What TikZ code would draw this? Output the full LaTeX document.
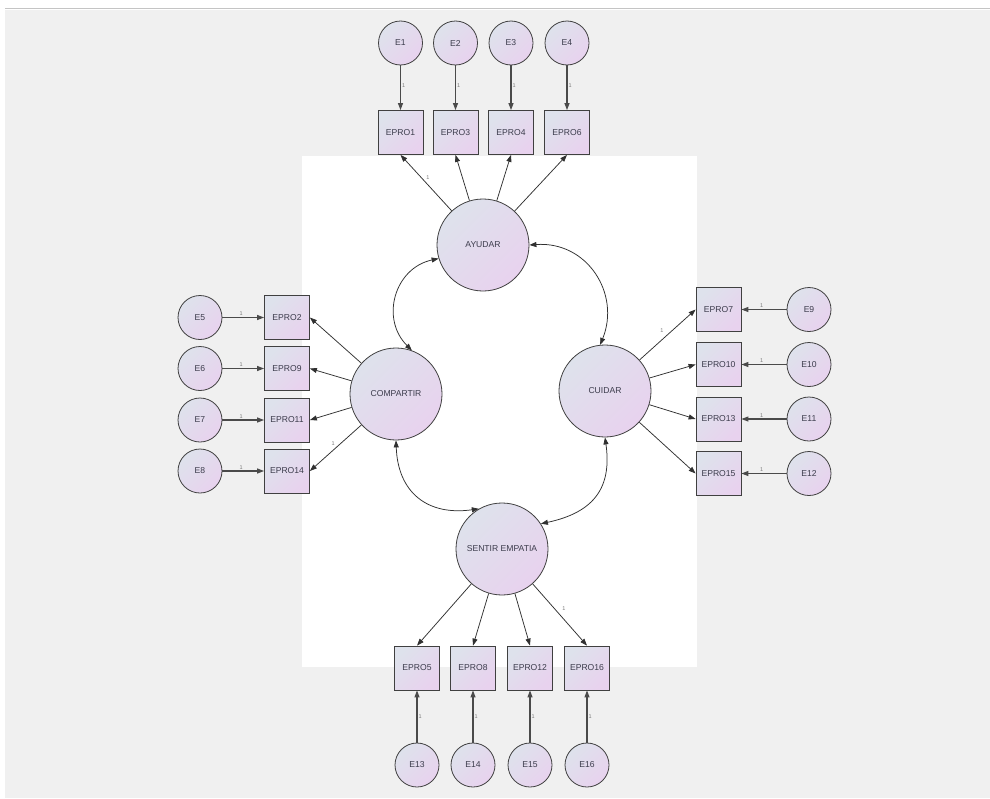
\documentclass[tikz,border=0pt]{standalone}
\usepackage{fontspec}
\setmainfont{Liberation Sans}
\usetikzlibrary{arrows.meta}
\definecolor{bgray}{HTML}{F0F0F0}
\definecolor{topline}{HTML}{C4C4C4}
\definecolor{cA}{HTML}{DEE2EC}
\definecolor{cB}{HTML}{E8D2EE}
\definecolor{bord}{HTML}{404040}
\definecolor{txt}{HTML}{3C3C4C}
\definecolor{lnk}{HTML}{303030}
\definecolor{elnk}{HTML}{4A4A4A}
\definecolor{lblc}{HTML}{7A7A7A}
\begin{document}
\begin{tikzpicture}[x=1pt,y=-1pt,
  shaded/.style={draw=bord, line width=0.8pt, top color=cA, bottom color=cB, shading angle=45,
    inner sep=0pt, text=txt, font=\fontsize{8.6}{10}\selectfont},
  obs/.style={shaded, rectangle, minimum width=45pt, minimum height=44pt},
  err/.style={shaded, circle, minimum size=44pt},
  lat/.style={shaded, circle, minimum size=92pt},
  load/.style={draw=lnk, line width=0.75pt, -{Triangle[length=7pt,width=5pt]}},
  earr/.style={draw=elnk, line width=1.1pt, -{Triangle[length=7pt,width=5pt]}},
  cov/.style={draw=lnk, line width=0.75pt, {Triangle[length=7pt,width=5pt]}-{Triangle[length=7pt,width=5pt]}},
  lbl/.style={font=\fontsize{5.5}{6}\selectfont, text=lblc, inner sep=1pt}]
\useasboundingbox (0,0) rectangle (990,798);
\fill[white] (0,0) rectangle (990,798);
\fill[bgray] (5,9.5) rectangle (990,798);
\draw[topline, line width=1.5pt] (5,8.5) -- (990,8.5);
\fill[white] (302,156) rectangle (697,667);

% latent variables
\node[lat] (ayu) at (483,245) {AYUDAR};
\node[lat] (comp) at (396,394) {COMPARTIR};
\node[lat] (cui) at (605,391) {CUIDAR};
\node[lat] (sent) at (502,549) {SENTIR EMPATIA};

% top
\node[obs] (b1) at (400.5,132.5) {EPRO1};
\node[obs] (b3) at (455.5,132.5) {EPRO3};
\node[obs] (b4) at (511,132.5) {EPRO4};
\node[obs] (b6) at (567,132.5) {EPRO6};
\node[err] (e1) at (400.5,43) {E1};
\node[err] (e2) at (455.5,43) {E2};
\node[err] (e3) at (511,43) {E3};
\node[err] (e4) at (567,43) {E4};

% left
\node[obs] (b2) at (287,317.5) {EPRO2};
\node[obs] (b9) at (287,368.5) {EPRO9};
\node[obs] (b11) at (287,420) {EPRO11};
\node[obs] (b14) at (287,471) {EPRO14};
\node[err] (e5) at (200,317.5) {E5};
\node[err] (e6) at (200,368.5) {E6};
\node[err] (e7) at (200,420) {E7};
\node[err] (e8) at (200,471) {E8};

% right
\node[obs] (b7) at (718.5,309.5) {EPRO7};
\node[obs] (b10) at (718.5,364.5) {EPRO10};
\node[obs] (b13) at (718.5,419) {EPRO13};
\node[obs] (b15) at (718.5,473.5) {EPRO15};
\node[err] (e9) at (809,309.5) {E9};
\node[err] (e10) at (809,364.5) {E10};
\node[err] (e11) at (809,419) {E11};
\node[err] (e12) at (809,473.5) {E12};

% bottom
\node[obs] (b5) at (417,668) {EPRO5};
\node[obs] (b8) at (473,668) {EPRO8};
\node[obs] (b12) at (530,668) {EPRO12};
\node[obs] (b16) at (587,668) {EPRO16};
\node[err] (e13) at (417,765) {E13};
\node[err] (e14) at (473,765) {E14};
\node[err] (e15) at (530,765) {E15};
\node[err] (e16) at (587,765) {E16};

% loadings
\draw[load] (ayu) -- (b1.south) node[lbl, pos=0.6, xshift=7pt] (l1) {1};
\draw[load] (ayu) -- (b3.south);
\draw[load] (ayu) -- (b4.south);
\draw[load] (ayu) -- (b6.south);

\draw[load] (comp) -- (b2.east);
\draw[load] (comp) -- (b9.east);
\draw[load] (comp) -- (b11.east);
\draw[load] (comp) -- (b14.east) node[lbl, pos=0.55, yshift=7pt] (l2) {1};

\draw[load] (cui) -- (b7.west) node[lbl, pos=0.4, yshift=9pt] (l3) {1};
\draw[load] (cui) -- (b10.west);
\draw[load] (cui) -- (b13.west);
\draw[load] (cui) -- (b15.west);

\draw[load] (sent) -- (b5.north);
\draw[load] (sent) -- (b8.north);
\draw[load] (sent) -- (b12.north);
\draw[load] (sent) -- (b16.north) node[lbl, pos=0.5, xshift=4pt, yshift=6pt] (l4) {1};

% error arrows
\draw[earr] (e1) -- (b1) node[lbl, pos=0.45, right=0pt] (m1) {1};
\draw[earr] (e2) -- (b3) node[lbl, pos=0.45, right=0pt] (m2) {1};
\draw[earr] (e3) -- (b4) node[lbl, pos=0.45, right=0pt] (m3) {1};
\draw[earr] (e4) -- (b6) node[lbl, pos=0.45, right=0pt] (m4) {1};

\draw[earr] (e5) -- (b2) node[lbl, pos=0.45, above=0pt] (m5) {1};
\draw[earr] (e6) -- (b9) node[lbl, pos=0.45, above=0pt] (m6) {1};
\draw[earr] (e7) -- (b11) node[lbl, pos=0.45, above=0pt] (m7) {1};
\draw[earr] (e8) -- (b14) node[lbl, pos=0.45, above=0pt] (m8) {1};

\draw[earr] (e9) -- (b7) node[lbl, pos=0.55, above=0pt] (m9) {1};
\draw[earr] (e10) -- (b10) node[lbl, pos=0.55, above=0pt] (m10) {1};
\draw[earr] (e11) -- (b13) node[lbl, pos=0.55, above=0pt] (m11) {1};
\draw[earr] (e12) -- (b15) node[lbl, pos=0.55, above=0pt] (m12) {1};

\draw[earr] (e13) -- (b5) node[lbl, pos=0.5, right=0pt] (m13) {1};
\draw[earr] (e14) -- (b8) node[lbl, pos=0.5, right=0pt] (m14) {1};
\draw[earr] (e15) -- (b12) node[lbl, pos=0.5, right=0pt] (m15) {1};
\draw[earr] (e16) -- (b16) node[lbl, pos=0.5, right=0pt] (m16) {1};

% covariances
\draw[cov] (comp.70) .. controls +(135:45pt) and +(192:45pt) .. (ayu.197);
\draw[cov] (ayu.0) .. controls +(4:58pt) and +(68:55pt) .. (cui.96);
\draw[cov] (comp.270) .. controls +(-88:52pt) and +(188:52pt) .. (sent.120);
\draw[cov] (cui.270) .. controls +(-82:50pt) and +(12:55pt) .. (sent.33);
\end{tikzpicture}
\end{document}
